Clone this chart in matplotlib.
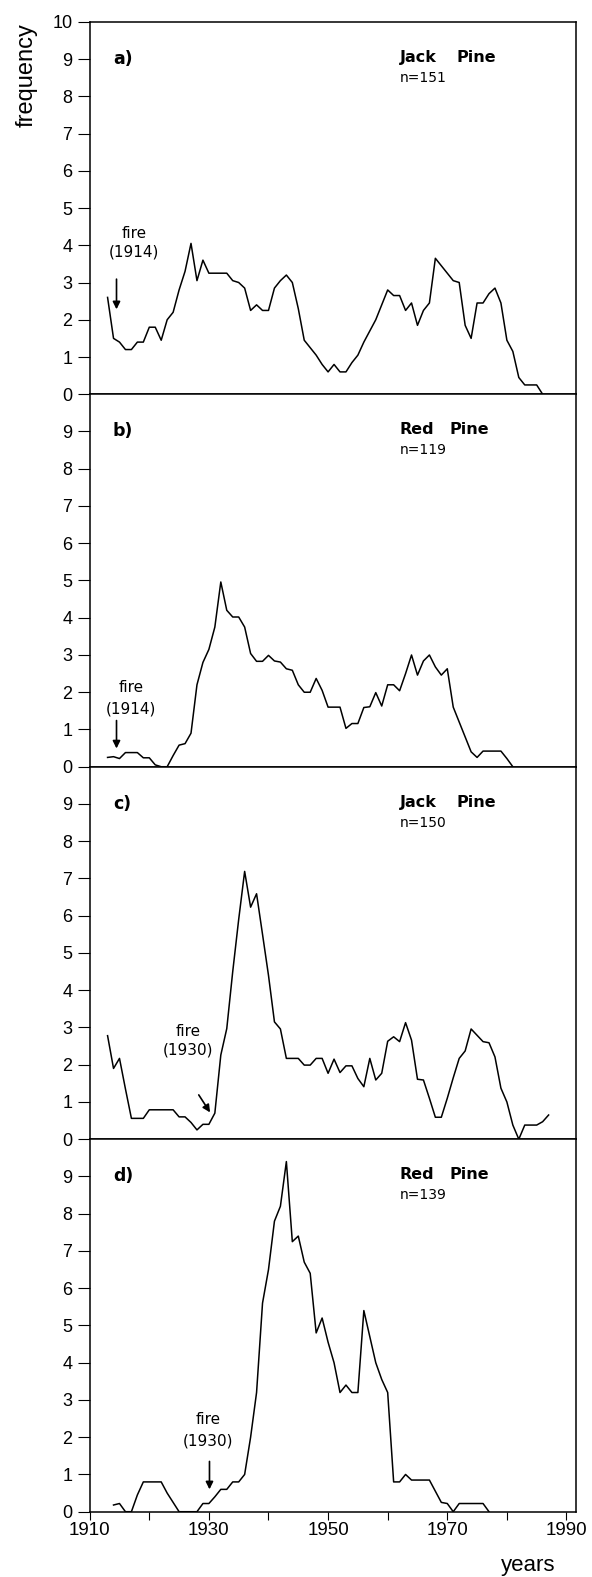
import matplotlib
matplotlib.use('Agg')
import matplotlib.pyplot as plt
import numpy as np

plt.rcParams['font.family'] = ['Liberation Sans', 'DejaVu Sans']

# establishment frequency per year
freq_a = [2.6, 1.5, 1.4, 1.2, 1.2, 1.4, 1.4, 1.8, 1.8, 1.45,
          2.0, 2.2, 2.8, 3.3, 4.05, 3.05, 3.6, 3.25, 3.25, 3.25,
          3.25, 3.05, 3.0, 2.85, 2.25, 2.4, 2.25, 2.25, 2.85, 3.05,
          3.2, 3.0, 2.3, 1.45, 1.25, 1.05, 0.8, 0.6, 0.8, 0.6,
          0.6, 0.85, 1.05, 1.4, 1.7, 2.0, 2.4, 2.8, 2.65, 2.65,
          2.25, 2.45, 1.85, 2.25, 2.45, 3.65, 3.45, 3.25, 3.05, 3.0,
          1.85, 1.5, 2.45, 2.45, 2.7, 2.85, 2.45, 1.45, 1.15, 0.45,
          0.25, 0.25, 0.25, 0.0]
start_a = 1913

freq_b = [0.25, 0.27, 0.22, 0.38, 0.38, 0.38, 0.24, 0.24, 0.05, 0.0,
          0.0, 0.3, 0.58, 0.62, 0.9, 2.2, 2.8, 3.15, 3.75, 4.96,
          4.2, 4.02, 4.02, 3.75, 3.04, 2.83, 2.83, 2.99, 2.84, 2.81,
          2.63, 2.59, 2.2, 2.0, 2.0, 2.37, 2.05, 1.6, 1.6, 1.6,
          1.03, 1.16, 1.16, 1.59, 1.61, 1.99, 1.63, 2.2, 2.2, 2.04,
          2.5, 3.0, 2.46, 2.84, 3.0, 2.68, 2.46, 2.63, 1.6, 1.2,
          0.8, 0.4, 0.25, 0.42, 0.42, 0.42, 0.42, 0.22, 0.0]
start_b = 1913

freq_c = [2.78, 1.9, 2.17, 1.35, 0.56, 0.56, 0.56, 0.79, 0.79, 0.79,
          0.79, 0.79, 0.6, 0.6, 0.45, 0.25, 0.4, 0.4, 0.7, 2.26,
          2.97, 4.5, 5.9, 7.19, 6.23, 6.59, 5.5, 4.4, 3.15, 2.96,
          2.17, 2.17, 2.17, 1.99, 1.99, 2.17, 2.17, 1.77, 2.15, 1.79,
          1.97, 1.97, 1.63, 1.41, 2.17, 1.59, 1.77, 2.63, 2.75, 2.62,
          3.13, 2.66, 1.61, 1.59, 1.1, 0.59, 0.59, 1.1, 1.65, 2.17,
          2.37, 2.96, 2.79, 2.62, 2.59, 2.21, 1.37, 1.0, 0.38, 0.0,
          0.38, 0.38, 0.38, 0.47, 0.65]
start_c = 1913

freq_d = [0.18, 0.22, 0.0, 0.0, 0.45, 0.8, 0.8, 0.8, 0.8, 0.5,
          0.25, 0.0, 0.0, 0.0, 0.0, 0.22, 0.22, 0.4, 0.6, 0.6,
          0.8, 0.8, 1.0, 2.0, 3.2, 5.6, 6.5, 7.8, 8.2, 9.4,
          7.25, 7.4, 6.7, 6.4, 4.8, 5.2, 4.55, 4.0, 3.2, 3.4,
          3.2, 3.2, 5.4, 4.7, 4.0, 3.55, 3.2, 0.8, 0.8, 1.0,
          0.85, 0.85, 0.85, 0.85, 0.55, 0.25, 0.22, 0.0, 0.22, 0.22,
          0.22, 0.22, 0.22, 0.0]
start_d = 1914

panel_tags = ['a)', 'b)', 'c)', 'd)']
species = [('Jack', 'Pine'), ('Red', 'Pine'), ('Jack', 'Pine'), ('Red', 'Pine')]
n_labels = ['n=151', 'n=119', 'n=150', 'n=139']
fire_labels = ['(1914)', '(1914)', '(1930)', '(1930)']

series = [(start_a, freq_a), (start_b, freq_b), (start_c, freq_c), (start_d, freq_d)]

# fire text centre (x, y_fire, y_year) and arrow (tail, tip)
fire_text = [(1917.4, 4.31, 3.83), (1917.0, 2.12, 1.54),
             (1926.5, 2.9, 2.39), (1929.8, 2.48, 1.89)]
fire_arrow = [((1914.5, 3.09), (1914.5, 2.28)), ((1914.5, 1.24), (1914.5, 0.49)),
              ((1928.3, 1.19), (1930.2, 0.72)), ((1930.1, 1.35), (1930.1, 0.6))]
pine_x = [1971.6, 1970.4, 1971.6, 1970.4]

fig = plt.figure(figsize=(5.92, 15.77), dpi=100)

left = 0.1515
width = 0.8215
height = 0.2362
bottom0 = 0.0414

for i in range(4):
    bottom = bottom0 + (3 - i) * height
    ax = fig.add_axes([left, bottom, width, height])
    start, freq = series[i]
    years = np.arange(start, start + len(freq))
    ax.plot(years, freq, color='black', lw=1.1)

    ax.set_xlim(1910, 1991.6)
    ax.set_ylim(0, 10)
    if i == 0:
        ax.set_yticks(range(0, 11))
    else:
        ax.set_yticks(range(0, 10))
    ax.tick_params(axis='y', direction='out', length=8.5, width=0.8,
                   labelsize=13, pad=4)
    if i == 3:
        ax.set_xticks(range(1910, 1991, 10))
        ax.set_xticklabels(['1910', '', '1930', '', '1950', '', '1970', '', '1990'])
        ax.tick_params(axis='x', direction='out', length=6, width=0.8,
                       labelsize=13.5, pad=1.5)
    else:
        ax.set_xticks([])
    for s in ax.spines.values():
        s.set_linewidth(1.1)

    ax.text(1913.9, 9.0, panel_tags[i], fontsize=12.5, fontweight='bold',
            family='DejaVu Sans', ha='left', va='center')
    ax.text(1962.0, 9.05, species[i][0], fontsize=11.5, fontweight='bold',
            family='DejaVu Sans', ha='left', va='center')
    ax.text(pine_x[i], 9.05, species[i][1], fontsize=11.5, fontweight='bold',
            family='DejaVu Sans', ha='left', va='center')
    ax.text(1962.0, 8.5, n_labels[i], fontsize=10, family='DejaVu Sans',
            ha='left', va='center')

    fx, fy1, fy2 = fire_text[i]
    ax.text(fx, fy1, 'fire', fontsize=11, family='DejaVu Sans',
            ha='center', va='center')
    ax.text(fx, fy2, fire_labels[i], fontsize=11, family='DejaVu Sans',
            ha='center', va='center')
    tail, tip = fire_arrow[i]
    ax.annotate('', xy=tip, xytext=tail,
                arrowprops=dict(arrowstyle='-|>', color='black', lw=1.2,
                                mutation_scale=11, shrinkA=0, shrinkB=0))

fig.text(0.0446, 0.9524, 'frequency', rotation=90, ha='center', va='center',
         fontsize=17)
fig.text(0.8924, 0.0038, 'years', ha='center', va='baseline', fontsize=16)

fig.savefig('out.png', dpi=100)
